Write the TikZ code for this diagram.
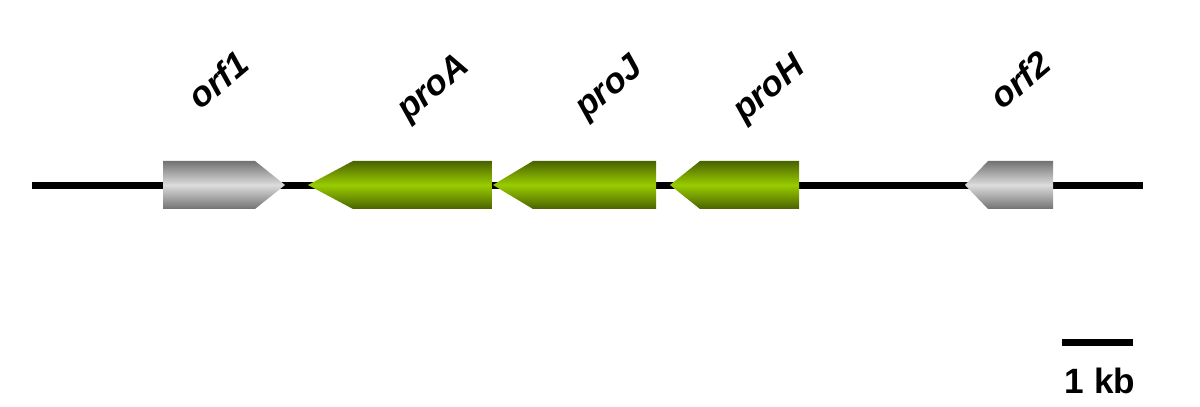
\documentclass[tikz,border=0pt]{standalone}
\usepackage{fontspec}
\setmainfont{Liberation Sans}
\usepackage{tikz}
\usetikzlibrary{positioning}
\definecolor{greydark}{HTML}{727272}
\definecolor{greylight}{HTML}{DCDCDC}
\definecolor{greendark}{HTML}{4A6200}
\definecolor{greenlight}{HTML}{99CC00}
\tikzset{orfgene/.style={top color=greydark, bottom color=greydark, middle color=greylight}}
\tikzset{progene/.style={top color=greendark, bottom color=greendark, middle color=greenlight}}
\tikzset{genelabel/.style={font=\fontsize{10}{11}\selectfont\bfseries\itshape, rotate=40, inner sep=0pt}}
\tikzset{backbone/.style={draw, line width=0.07cm}}
\newcommand\fwdgene[4][]{
				\shade[#1] (#2,161) -- (#3,161) -- (#4,185) -- (#3,209) -- (#2,209) -- cycle;
				}
\newcommand\revgene[4][]{
				\shade[#1] (#2,185) -- (#3,161) -- (#4,161) -- (#4,209) -- (#3,209) -- cycle;
				}

\begin{document}
\begin{tikzpicture}[x=0.01cm, y=-0.01cm]
	\useasboundingbox (0,0) rectangle (1200,407);

	\coordinate (lstart) at (32, 186);
	\coordinate (lend) at (1143, 186);
	\draw[backbone] (lstart) -- (lend);

	\fwdgene[orfgene]{163}{255}{285}
	\revgene[progene]{308}{353}{492}
	\revgene[progene]{493}{533}{656}
	\revgene[progene]{670}{700}{799}
	\revgene[orfgene]{965}{988}{1053}

	\node[genelabel] (orf1) at (218, 80) {orf1};
	\node[genelabel] (proA) at (434, 89) {proA};
	\node[genelabel] (proJ) at (610, 89) {proJ};
	\node[genelabel] (proH) at (770, 90) {proH};
	\node[genelabel] (orf2) at (1020, 80) {orf2};

	% scale bar
	\coordinate (sb0) at (1062, 343);
	\coordinate (sb1) at (1133, 343);
	\draw[backbone] (sb0) -- (sb1);
	\node[font=\fontsize{10}{11}\selectfont\bfseries, inner sep=0pt] (kb) at (1100, 381) {1 kb};
\end{tikzpicture}
\end{document}
